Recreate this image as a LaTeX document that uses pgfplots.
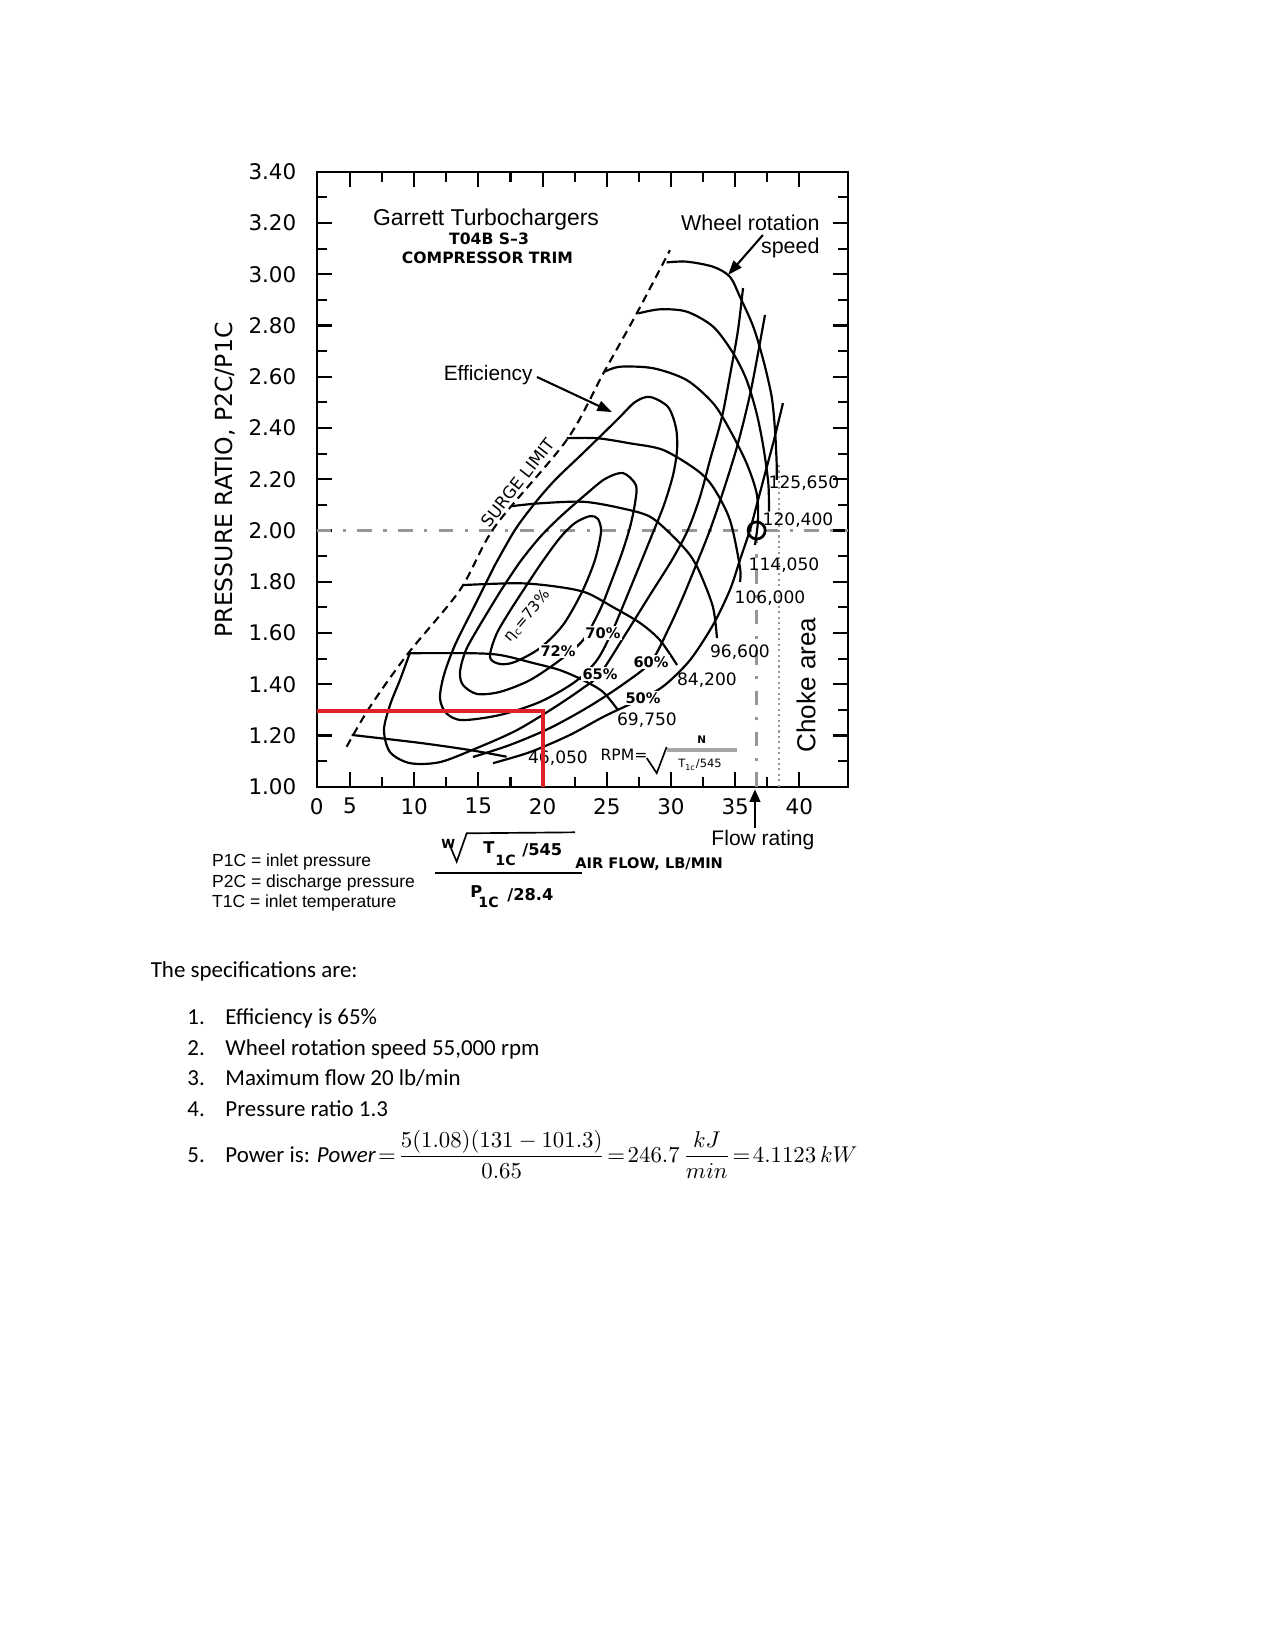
\documentclass[border=0pt]{standalone}
\usepackage{amsmath}
\usepackage{fontspec}
\setmainfont{Carlito}
\newfontfamily\lib{Liberation Sans}
\newfontfamily\dv{DejaVu Sans}
\usepackage{pgfplots}
\pgfplotsset{compat=1.18}
\usetikzlibrary{arrows.meta}
\definecolor{myred}{RGB}{226,30,38}
\definecolor{dgray}{RGB}{150,150,150}
\pgfplotsset{cv/.style={black, line width=1.05pt, smooth, tension=0.5}}
\begin{document}
\begin{tikzpicture}
\path[use as bounding box] (0,0) rectangle (612pt,-792pt);
\begin{axis}[
  at={(152.02pt,-377.62pt)}, anchor=south west,
  scale only axis, width=255.17pt, height=295.2pt,
  xmin=2.41, xmax=43.81, ymin=1, ymax=3.4,
  axis line style={line width=1.1pt},
  tick align=inside,
  every tick/.style={black, line width=1pt},
  major tick length=7.2pt, minor tick length=4.8pt,
  xtick={5,10,15,20,25,30,35,40},
  xticklabels={5,10,15,20,25,30,35,40},
  minor xtick={7.5,12.5,17.5,22.5,27.5,32.5,37.5},
  extra x ticks={2.41}, extra x tick labels={0},
  extra x tick style={major tick length=0pt},
  ytick={1,1.2,1.4,1.6,1.8,2,2.2,2.4,2.6,2.8,3,3.2,3.4},
  yticklabels={1.00,1.20,1.40,1.60,1.80,2.00,2.20,2.40,2.60,2.80,3.00,3.20,3.40},
  minor ytick={1.1,1.3,1.5,1.7,1.9,2.1,2.3,2.5,2.7,2.9,3.1,3.3},
  xticklabel style={font=\dv\fontsize{10.3}{12}\selectfont, inner sep=0pt, anchor=north, yshift=-5.3pt},
  yticklabel style={font=\dv\fontsize{10.3}{12}\selectfont, inner sep=0pt, anchor=east, xshift=-9.6pt},
  clip=false,
]
% reference lines
\addplot[dgray, line width=1.2pt, dash pattern=on 7pt off 5.5pt on 1.5pt off 5.5pt] coordinates {(2.41,2) (43.81,2)};
\addplot[dgray, line width=1.2pt, dash pattern=on 7pt off 5.5pt on 1.5pt off 5.5pt] coordinates {(36.67,1) (36.67,1.965)};
\addplot[dgray, line width=1pt, dash pattern=on 1pt off 1.6pt] coordinates {(38.41,1) (38.41,2.255)};
% surge limit
\addplot[black, line width=1pt, dash pattern=on 4pt off 2.6pt, smooth, tension=0.5] coordinates {(4.74,1.156) (6.56,1.312) (9.54,1.521) (13.57,1.768) (16.29,2.015) (21.88,2.353) (24.73,2.613) (27.33,2.847) (29.92,3.094)};
% speed lines
\addplot[cv] coordinates {(29.66,3.046) (31.22,3.049) (33.29,3.029) (34.59,2.990) (35.37,2.912) (36.41,2.795) (37.19,2.665) (37.84,2.522) (38.10,2.392) (38.23,2.262) (38.23,2.197)};
\addplot[cv] coordinates {(27.45,2.847) (29.14,2.863) (31.22,2.854) (33.29,2.795) (34.85,2.691) (35.89,2.587) (36.67,2.457) (37.19,2.327) (37.58,2.184) (37.63,2.074)};
\addplot[cv] coordinates {(24.86,2.620) (26.03,2.639) (28.62,2.633) (31.22,2.587) (33.29,2.496) (34.59,2.392) (35.89,2.262) (36.67,2.145) (36.78,2.041) (36.54,1.943)};
\addplot[cv] coordinates {(21.88,2.360) (24.24,2.360) (26.81,2.340) (29.40,2.314) (32.00,2.236) (33.27,2.170) (34.59,2.041) (35.37,1.857) (35.37,1.799)};
\addplot[cv] coordinates {(17.62,2.095) (19.80,2.106) (23.17,2.112) (26.03,2.088) (28.36,2.054) (30.18,1.976) (31.48,1.904) (32.26,1.834) (33.27,1.701) (33.58,1.580)};
\addplot[cv] coordinates {(13.82,1.787) (18.24,1.794) (21.35,1.779) (23.46,1.756) (25.48,1.701) (27.59,1.639) (29.14,1.572) (30.47,1.475)};
\addplot[cv] coordinates {(9.54,1.521) (14.35,1.521) (16.68,1.514) (19.25,1.483) (21.35,1.455) (23.15,1.416) (24.70,1.370) (25.87,1.299)};
\addplot[cv] coordinates {(5.13,1.202) (10.45,1.171) (14.35,1.143) (17.20,1.117)};
% efficiency islands
\addplot[cv] coordinates {(17.85,1.717) (19.80,1.865) (21.35,1.971) (22.52,2.029) (23.69,2.056) (24.31,2.045) (24.55,1.994) (24.08,1.885) (23.07,1.760) (21.59,1.631) (19.80,1.541) (17.85,1.487) (16.68,1.479) (15.90,1.506) (16.45,1.600) (17.85,1.717)};
\addplot[cv] coordinates {(16.68,1.760) (18.24,1.877) (19.80,1.974) (21.35,2.052) (23.30,2.138) (24.86,2.201) (26.26,2.224) (27.27,2.177) (27.20,2.107) (26.81,2.013) (26.18,1.912) (25.40,1.807) (24.47,1.690) (23.15,1.572) (21.35,1.494) (19.02,1.416) (16.68,1.370) (14.89,1.362) (13.80,1.397) (13.57,1.448) (14.03,1.533) (15.12,1.631) (16.68,1.760)};
\addplot[cv] coordinates {(16.29,1.865) (17.85,2.002) (19.41,2.107) (20.97,2.197) (23.15,2.302) (25.79,2.431) (27.20,2.501) (28.36,2.521) (29.77,2.482) (30.39,2.400) (30.47,2.314) (30.16,2.216) (29.45,2.099) (28.52,1.982) (27.35,1.838) (26.26,1.705) (25.40,1.604) (24.24,1.494) (22.52,1.409) (19.80,1.331) (16.68,1.280) (13.72,1.260) (12.48,1.288) (12.01,1.346) (12.32,1.436) (13.18,1.553) (14.73,1.709) (16.29,1.865)};
\addplot[cv] coordinates {(9.67,1.522) (8.89,1.416) (8.12,1.319) (7.65,1.221) (8.12,1.135) (9.67,1.092) (12.01,1.096) (14.89,1.151) (18.01,1.221) (20.97,1.311) (23.15,1.385) (24.47,1.440) (26.42,1.592) (28.36,1.748) (30.08,1.885) (31.32,2.002) (32.26,2.131) (33.04,2.275) (33.97,2.443) (34.67,2.626) (35.22,2.782) (35.61,2.946)};
\addplot[cv] coordinates {(14.58,1.116) (17.46,1.163) (20.58,1.229) (23.69,1.315) (26.42,1.405) (28.44,1.487) (29.77,1.612) (30.93,1.740) (32.02,1.873) (33.04,2.002) (33.97,2.138) (35.14,2.326) (36.23,2.548) (37.32,2.841)};
\addplot[cv] coordinates {(16.14,1.092) (19.02,1.135) (22.13,1.202) (24.86,1.276) (27.82,1.346) (29.53,1.397) (31.48,1.494) (33.27,1.631) (34.59,1.768) (35.37,1.885) (36.15,2.002) (36.78,2.119) (37.40,2.236) (38.02,2.353) (38.72,2.497)};
% operating point
\draw[line width=1.3pt] (36.67,2) circle[radius=4.1pt];
% efficiency labels
\begin{scope}[every node/.style={font=\dv\bfseries\fontsize{7}{9}\selectfont, fill=white, inner sep=0.6pt}]
\node at (21.20,1.530) {72\%};
\node at (24.70,1.600) {70\%};
\node at (24.47,1.440) {65\%};
\node at (28.44,1.487) {60\%};
\node at (27.82,1.346) {50\%};
\node[rotate=50, fill=none, inner sep=0pt, font=\dv\fontsize{7.2}{9}\selectfont] at (18.85,1.665) {η\textsubscript{c}=73\%};
\end{scope}
% speed labels
\begin{scope}[every node/.style={font=\dv\fontsize{8.2}{9}\selectfont, inner sep=0.5pt}]
\node at (40.36,2.185) {125,650};
\node at (39.89,2.041) {120,400};
\node at (38.80,1.865) {114,050};
\node at (37.71,1.736) {106,000};
\node at (35.37,1.526) {96,600};
\node at (32.80,1.416) {84,200};
\node at (28.13,1.260) {69,750};
\node at (21.20,1.112) {46,050};
\end{scope}
% RPM formula
\node[font=\dv\fontsize{7.5}{9}\selectfont] at (26.34,1.124) {RPM=};
\draw[line width=0.8pt] (28.11,1.112) -- (28.89,1.053) -- (29.66,1.155);
\draw[gray!70, line width=2pt] (29.66,1.143) -- (35.12,1.143);
\node[font=\dv\bfseries\fontsize{5}{6}\selectfont] at (32.39,1.182) {N};
\node[font=\dv\fontsize{5.5}{6}\selectfont] at (32.26,1.085) {T\textsubscript{1c}/545};
% titles and annotations
\node[anchor=base, font=\lib\fontsize{11}{13}\selectfont] at (15.59,3.192) {Garrett Turbochargers};
\node[anchor=base, font=\dv\bfseries\fontsize{7.5}{9}\selectfont] at (15.83,3.114) {T04B S–3};
\node[anchor=base, font=\dv\bfseries\fontsize{7.5}{9}\selectfont] at (15.71,3.043) {COMPRESSOR TRIM};
\node[anchor=base east, inner sep=0pt, font=\lib\fontsize{10}{12}\selectfont] at (19.25,2.587) {Efficiency};
\draw[-{Triangle[length=7pt,width=5pt]}, line width=1pt] (19.56,2.599) -- (25.40,2.462);
\node[anchor=base east, inner sep=0pt, font=\lib\fontsize{10.3}{12}\selectfont] at (41.60,3.172) {Wheel rotation};
\node[anchor=base east, inner sep=0pt, font=\lib\fontsize{10.3}{12}\selectfont] at (41.60,3.082) {speed};
\draw[-{Triangle[length=7pt,width=5pt]}, line width=1pt] (37.16,3.153) -- (34.44,2.997);
\node[rotate=52, inner sep=0pt, font=\dv\fontsize{8}{9}\selectfont] at (18.08,2.185) {SURGE LIMIT};
\node[rotate=90, font=\lib\fontsize{12.5}{14}\selectfont] at (40.51,1.397) {Choke area};
\draw[-{Triangle[length=6pt,width=5pt]}, line width=1.2pt] (36.54,0.839) -- (36.54,0.99);
\node[anchor=base, inner sep=0pt, font=\lib\fontsize{10.1}{12}\selectfont] at (37.16,0.7725) {Flow rating};
% red operating lines
\addplot[myred, line width=2pt, line join=miter] coordinates {(2.41,1.297) (20.06,1.297) (20.06,1)};
\end{axis}
\begin{scope}[x=0.48pt, y=-0.48pt]
\node[rotate=90, font=\dv\fontsize{11.3}{13}\selectfont] at (225,480) {PRESSURE RATIO, P2C/P1C};
\begin{scope}[every node/.style={anchor=base west, inner sep=0pt, font=\lib\fontsize{8.4}{10}\selectfont}]
\node at (211.7,866) {P1C = inlet pressure};
\node at (211.7,887) {P2C = discharge pressure};
\node at (211.7,907) {T1C = inlet temperature};
\end{scope}
\node[anchor=base west, inner sep=0pt, font=\dv\bfseries\fontsize{7}{8}\selectfont] at (575,868.3) {AIR FLOW, LB/MIN};
\draw[line width=0.8pt] (435,873.3) -- (582,873.3);
\draw[line width=0.8pt] (448.3,841.7) -- (456.7,861.7) -- (466.7,833.3) -- (575,832.3);
\begin{scope}[every node/.style={anchor=base west, inner sep=0pt, font=\dv\bfseries\fontsize{7.8}{9}\selectfont}]
\node[font=\dv\bfseries\fontsize{6}{7}\selectfont] at (441,848) {W};
\node at (483,853.3) {T};
\node[font=\dv\bfseries\fontsize{6.8}{8}\selectfont] at (495,865) {1C};
\node at (522,855) {/545};
\node at (470,897) {P};
\node[font=\dv\bfseries\fontsize{6.8}{8}\selectfont] at (478,907) {1C};
\node at (507,900) {/28.4};
\end{scope}
\begin{scope}[every node/.style={anchor=base west, inner sep=0pt, font=\fontsize{11}{13.4}\selectfont}]
\node at (150.4,977.5) {The specifications are:};
\node at (187,1024.5) {1.};
\node at (225,1024.5) {Efficiency is 65\%};
\node at (187,1055.5) {2.};
\node at (225,1055.5) {Wheel rotation speed 55,000 rpm};
\node at (187,1085.5) {3.};
\node at (225,1085.5) {Maximum flow 20 lb/min};
\node at (187,1116.5) {4.};
\node at (225,1116.5) {Pressure ratio 1.3};
\node at (187,1162.5) {5.};
\node at (225,1162.5) {Power is: $\mathit{Power}\!=\!\dfrac{5(1.08)(131-101.3)}{0.65}\!=\!246.7\,\dfrac{kJ}{min}\!=\!4.1123\,kW$};
\end{scope}
\end{scope}
\end{tikzpicture}
\end{document}
